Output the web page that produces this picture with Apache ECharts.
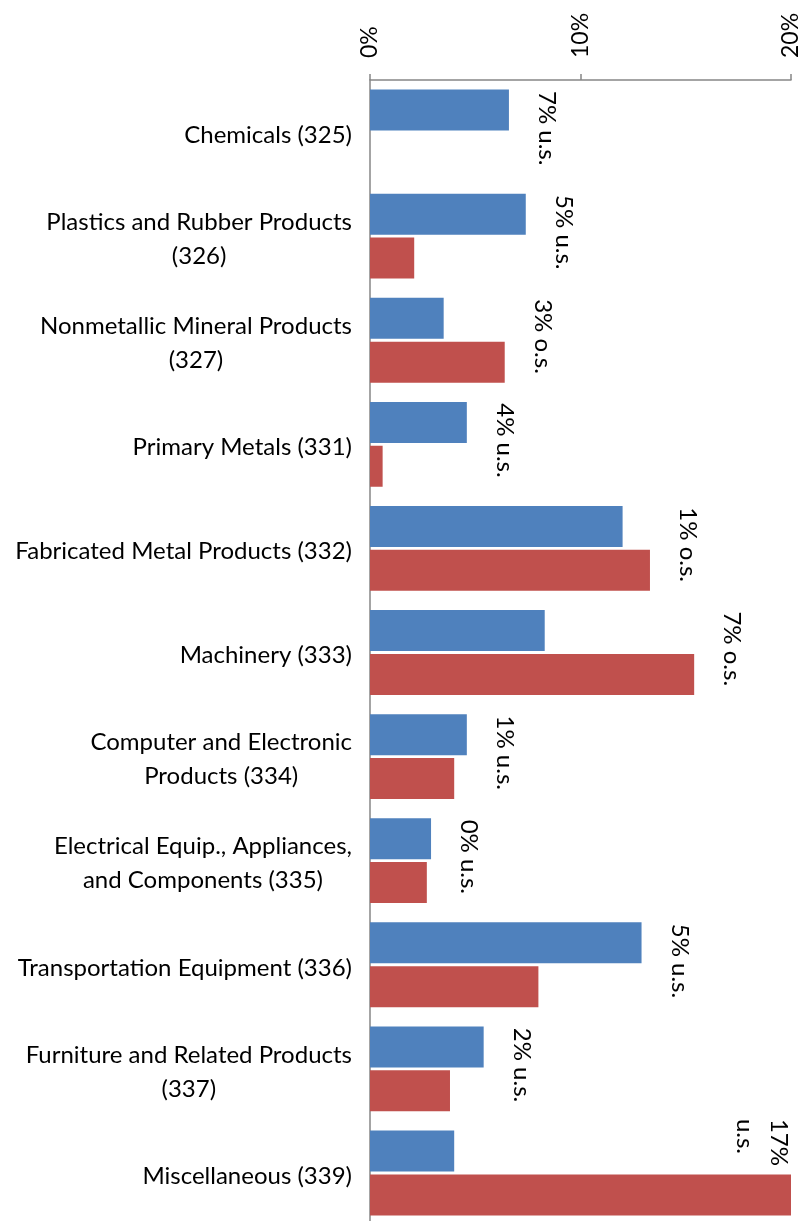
<!DOCTYPE html>
<html>
<head>
<meta charset="utf-8">
<script src="https://cdn.jsdelivr.net/npm/echarts@6/dist/echarts.min.js"></script>
<style>
  html, body { margin: 0; padding: 0; background: #fff; }
  #chart { width: 808px; height: 1221px; }
</style>
</head>
<body>
<div id="chart"></div>
<script>
// categories (top to bottom)
const categories = [
  "Chemicals (325)",
  "Plastics and Rubber Products\n(326)",
  "Nonmetallic Mineral Products\n(327)",
  "Primary Metals (331)",
  "Fabricated Metal Products (332)",
  "Machinery (333)",
  "Computer and Electronic\nProducts (334)",
  "Electrical Equip., Appliances,\nand Components (335)",
  "Transportation Equipment (336)",
  "Furniture and Related Products\n(337)",
  "Miscellaneous (339)"
];
// blue series (%)
const blueValues = [6.6, 7.4, 3.5, 4.6, 12.0, 8.3, 4.6, 2.9, 12.9, 5.4, 4.0];
// red series (%)
const redValues = [0, 2.1, 6.4, 0.6, 13.3, 15.4, 4.0, 2.7, 8.0, 3.8, 20];
// notes next to each pair
const notes = [
  "7% u.s.", "5% u.s.", "3% o.s.", "4% u.s.", "1% o.s.", "7% o.s.",
  "1% u.s.", "0% u.s.", "5% u.s.", "2% u.s.", "17%\nu.s."
];
// value axis ticks
const tickMin = 0;
const tickMax = 20;
const tickStep = 10;

const font = "Lato";
const lineH = 34;

var myChart = echarts.init(document.getElementById("chart"));

// where each note sits: just past the longer bar of the pair
const noteData = categories.map((c, i) => [Math.max(blueValues[i], redValues[i]), i]);

var option = {
  animation: false,
  grid: { left: 370, right: 17, top: 80, height: 1145, containLabel: false, outerBoundsMode: "none" },
  xAxis: {
    type: "value",
    position: "top",
    min: tickMin,
    max: tickMax,
    interval: tickStep,
    splitLine: { show: false },
    axisLine: { show: true, lineStyle: { color: "#868686", width: 1.5 } },
    axisTick: { show: true, length: 6, lineStyle: { color: "#868686", width: 1.5 } },
    axisLabel: {
      rotate: -90,
      margin: 22,
      color: "#000",
      fontFamily: font,
      fontSize: 23,
      formatter: "{value}%"
    }
  },
  yAxis: {
    type: "category",
    inverse: true,
    data: categories,
    axisLine: { lineStyle: { color: "#868686", width: 1.5 } },
    axisTick: { length: 8, lineStyle: { color: "#868686", width: 1.5 } },
    axisLabel: {
      margin: 18,
      color: "#000",
      formatter: v => v.split("\n").map(l => "{c|" + l + "}").join("\n"),
      rich: {
        c: { fontFamily: font, fontSize: 24, lineHeight: lineH, align: "center", color: "#000", padding: [6, 0, 0, 0] }
      }
    }
  },
  series: [
    {
      type: "bar",
      data: blueValues,
      barWidth: 41,
      barGap: "7%",
      itemStyle: { color: "#4F81BD" }
    },
    {
      type: "bar",
      data: redValues,
      barWidth: 41,
      itemStyle: { color: "#C0504D" }
    },
    {
      type: "custom",
      data: noteData,
      encode: { x: 0, y: 1 },
      clip: false,
      silent: true,
      z: 10,
      renderItem: function (params, api) {
        const i = params.dataIndex;
        const p = api.coord([api.value(0), api.value(1)]);
        const band = api.size([0, 1])[1];
        const text = notes[i];
        const lines = text.split("\n").length;
        const right = api.coord([tickMax, api.value(1)])[0];
        let x = p[0] + 21;
        let y = p[1] - band / 2 + 11;
        // no room past the bars: tuck the note into the row's top-right corner
        if (x + lines * lineH > right) {
          x = right - lines * lineH + 5;
          y = p[1] - band / 2 - 2;
        }
        return {
          type: "text",
          x: x,
          y: y,
          rotation: -Math.PI / 2,
          style: {
            text: text,
            fontFamily: font,
            fontSize: 24,
            lineHeight: lineH,
            fill: "#000",
            align: "left",
            verticalAlign: "bottom"
          }
        };
      }
    }
  ]
};
myChart.setOption(option);
</script>
</body>
</html>
